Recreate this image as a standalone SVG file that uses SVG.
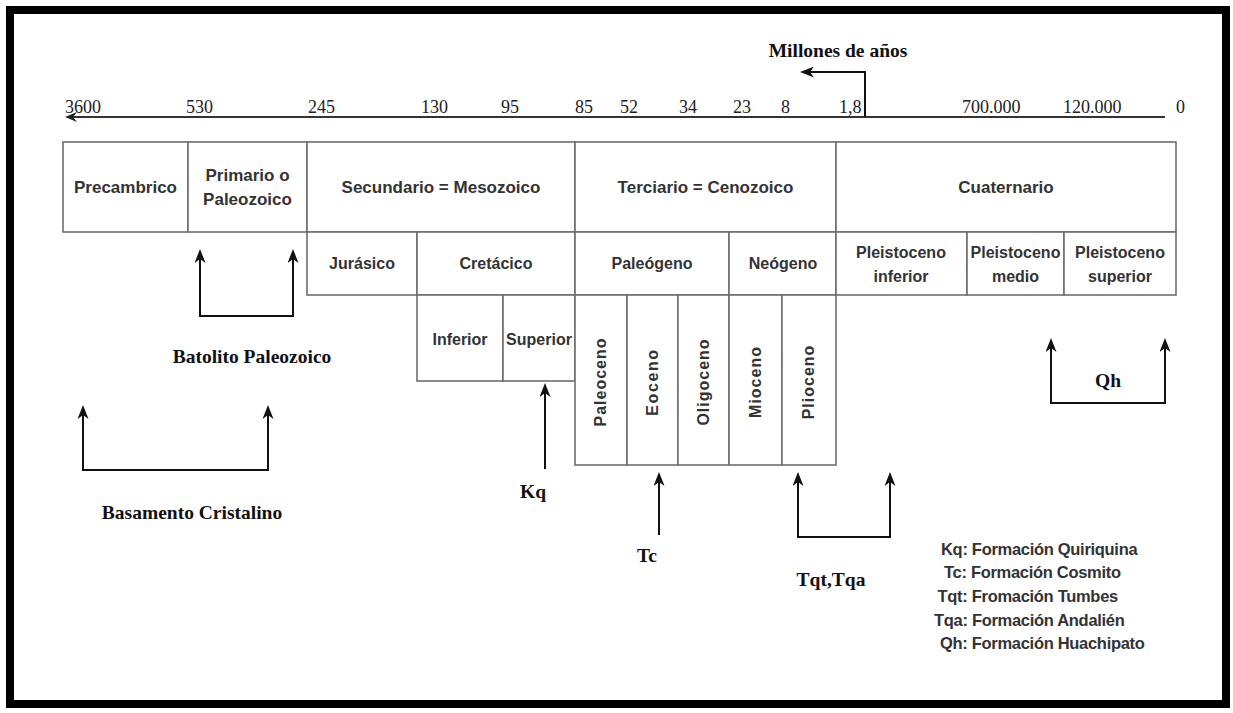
<svg xmlns="http://www.w3.org/2000/svg" width="1233" height="713" viewBox="0 0 1233 713">
<defs>
<style>
.box{fill:#fff;stroke:#6e6e6e;stroke-width:1.6}
.s17{font-family:"Liberation Sans",Arial,sans-serif;font-weight:bold;font-size:17px;fill:#333;text-anchor:middle}
.s16{font-family:"Liberation Sans",Arial,sans-serif;font-weight:bold;font-size:16px;fill:#333;text-anchor:middle}
.ep{font-family:"Liberation Sans",Arial,sans-serif;font-weight:bold;font-size:16px;fill:#333;text-anchor:middle;letter-spacing:1px}
.lbl{font-family:"Liberation Serif","Times New Roman",serif;font-weight:bold;font-size:19.5px;fill:#111;text-anchor:middle}
.num{font-family:"Liberation Serif","Times New Roman",serif;font-size:18px;fill:#222}
.leg{font-family:"Liberation Sans",Arial,sans-serif;font-weight:bold;font-size:16.5px;fill:#333;letter-spacing:-0.3px}
.conn{fill:none;stroke:#111;stroke-width:2}
.axis{fill:none;stroke:#333;stroke-width:2}
</style>
<marker id="ah" viewBox="0 0 14 11" markerWidth="14" markerHeight="11" refX="4" refY="5.5" orient="auto-start-reverse" markerUnits="userSpaceOnUse">
<path d="M0,0 L14,5.5 L0,11 L4,5.5 z" fill="#111"/>
</marker>
<marker id="ahs" viewBox="0 0 12 10" markerWidth="12" markerHeight="10" refX="4" refY="5" orient="auto-start-reverse" markerUnits="userSpaceOnUse">
<path d="M0,0 L12,5 L0,10 L4,5 z" fill="#222"/>
</marker>
</defs>
<rect width="1233" height="713" fill="#fff"/>
<rect id="frame" x="10" y="10" width="1216" height="694" fill="none" stroke="#000" stroke-width="8"/>

<g id="timeline">
<path class="axis" d="M1165,117 L73,117" marker-end="url(#ahs)"/>
<text class="num" x="65" y="113">3600</text>
<text class="num" x="186" y="113">530</text>
<text class="num" x="308" y="113">245</text>
<text class="num" x="421" y="113">130</text>
<text class="num" x="501" y="113">95</text>
<text class="num" x="575" y="113">85</text>
<text class="num" x="620" y="113">52</text>
<text class="num" x="679" y="113">34</text>
<text class="num" x="733" y="113">23</text>
<text class="num" x="781" y="113">8</text>
<text class="num" x="839" y="113">1,8</text>
<text class="num" x="962" y="113">700.000</text>
<text class="num" x="1063" y="113">120.000</text>
<text class="num" x="1176" y="113">0</text>
</g>
<g id="millones">
<text class="lbl" x="838" y="57">Millones de años</text>
</g>

<g id="precambrico"><rect class="box" x="63" y="142" width="125" height="90"/><text class="s17" x="125.5" y="193">Precambrico</text></g>
<g id="primario"><rect class="box" x="188" y="142" width="119" height="90"/><text class="s17" x="247.5" y="181">Primario o</text><text class="s17" x="247.5" y="205">Paleozoico</text></g>
<g id="secundario"><rect class="box" x="307" y="142" width="268" height="90"/><text class="s17" x="441" y="193">Secundario = Mesozoico</text></g>
<g id="terciario"><rect class="box" x="575" y="142" width="261" height="90"/><text class="s17" x="705.5" y="193">Terciario = Cenozoico</text></g>
<g id="cuaternario"><rect class="box" x="836" y="142" width="340" height="90"/><text class="s17" x="1006" y="193">Cuaternario</text></g>

<g id="jurasico"><rect class="box" x="307" y="232" width="110" height="63"/><text class="s16" x="362" y="269">Jurásico</text></g>
<g id="cretacico"><rect class="box" x="417" y="232" width="158" height="63"/><text class="s16" x="496" y="269">Cretácico</text></g>
<g id="paleogeno"><rect class="box" x="575" y="232" width="154" height="63"/><text class="s16" x="652" y="269">Paleógeno</text></g>
<g id="neogeno"><rect class="box" x="729" y="232" width="107" height="63"/><text class="s16" x="783" y="269">Neógeno</text></g>
<g id="pleistoceno-inferior"><rect class="box" x="836" y="232" width="131" height="63"/><text class="s16" x="901" y="258">Pleistoceno</text><text class="s16" x="901" y="282">inferior</text></g>
<g id="pleistoceno-medio"><rect class="box" x="967" y="232" width="97" height="63"/><text class="s16" x="1015.5" y="258">Pleistoceno</text><text class="s16" x="1015.5" y="282">medio</text></g>
<g id="pleistoceno-superior"><rect class="box" x="1064" y="232" width="112" height="63"/><text class="s16" x="1120" y="258">Pleistoceno</text><text class="s16" x="1120" y="282">superior</text></g>

<g id="inferior"><rect class="box" x="417" y="295" width="86" height="86"/><text class="s16" x="460" y="345">Inferior</text></g>
<g id="superior"><rect class="box" x="503" y="295" width="72" height="86"/><text class="s16" x="539" y="345">Superior</text></g>

<g id="paleoceno"><rect class="box" x="575" y="295" width="52" height="170"/><text class="ep" transform="translate(606,382) rotate(-90)">Paleoceno</text></g>
<g id="eoceno"><rect class="box" x="627" y="295" width="51" height="170"/><text class="ep" style="letter-spacing:1.6px" transform="translate(658,382) rotate(-90)">Eoceno</text></g>
<g id="oligoceno"><rect class="box" x="678" y="295" width="51" height="170"/><text class="ep" transform="translate(709,382) rotate(-90)">Oligoceno</text></g>
<g id="mioceno"><rect class="box" x="729" y="295" width="53" height="170"/><text class="ep" transform="translate(761,382) rotate(-90)">Mioceno</text></g>
<g id="plioceno"><rect class="box" x="782" y="295" width="54" height="170"/><text class="ep" transform="translate(814,382) rotate(-90)">Plioceno</text></g>

<g id="connectors">
<path class="conn" d="M865,117 L865,72 L810,72" marker-end="url(#ah)"/>
<path class="conn" d="M200,259 L200,316 L293,316 L293,259" marker-start="url(#ah)" marker-end="url(#ah)"/>
<path class="conn" d="M83,415 L83,470 L268,470 L268,415" marker-start="url(#ah)" marker-end="url(#ah)"/>
<path class="conn" d="M545,469 L545,393" marker-end="url(#ah)"/>
<path class="conn" d="M659,535 L659,482" marker-end="url(#ah)"/>
<path class="conn" d="M798,482 L798,537 L890,537 L890,482" marker-start="url(#ah)" marker-end="url(#ah)"/>
<path class="conn" d="M1051,348 L1051,403 L1165,403 L1165,348" marker-start="url(#ah)" marker-end="url(#ah)"/>
</g>

<g id="label-batolito"><text class="lbl" x="252" y="363">Batolito Paleozoico</text></g>
<g id="label-basamento"><text class="lbl" x="192" y="519">Basamento Cristalino</text></g>
<g id="label-kq"><text class="lbl" x="533" y="498">Kq</text></g>
<g id="label-tc"><text class="lbl" x="647" y="562">Tc</text></g>
<g id="label-tqt"><text class="lbl" x="831" y="586">Tqt,Tqa</text></g>
<g id="label-qh"><text class="lbl" x="1108" y="387">Qh</text></g>

<g id="legend">
<text class="leg" x="941" y="555">Kq: Formación Quiriquina</text>
<text class="leg" x="944" y="578">Tc: Formación Cosmito</text>
<text class="leg" x="937.5" y="602">Tqt: Fromación Tumbes</text>
<text class="leg" x="934" y="626">Tqa: Formación Andalién</text>
<text class="leg" x="940" y="649">Qh: Formación Huachipato</text>
</g>
</svg>
